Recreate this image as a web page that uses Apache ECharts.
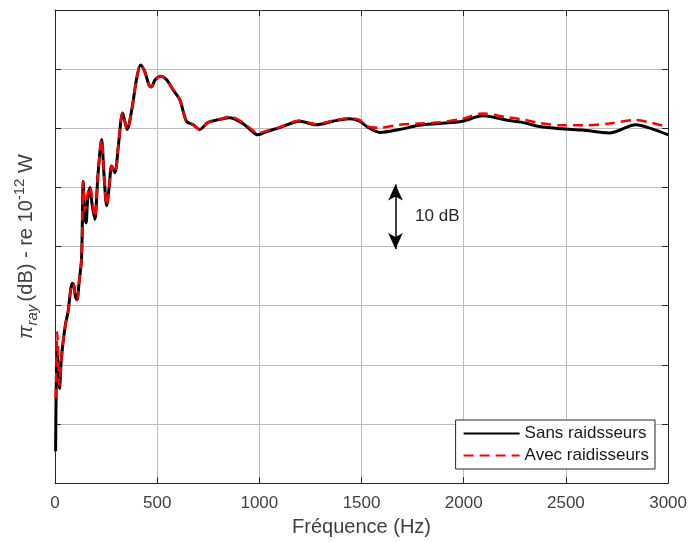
<!DOCTYPE html>
<html>
<head>
<meta charset="utf-8">
<script src="https://cdn.jsdelivr.net/npm/echarts@6/dist/echarts.min.js"></script>
<style>
  html, body { margin: 0; padding: 0; background: #fff; }
  #chart { width: 690px; height: 542px; }
</style>
</head>
<body>
<div id="chart"></div>
<script>
// frequencies (Hz)
const freq = [3, 6, 11, 17, 22, 30, 40, 52, 64, 76, 84, 92, 100, 108, 118, 130, 138, 146, 152, 160,
  171, 182, 195, 210, 228, 240, 253, 265, 277, 293, 310, 331, 353, 375, 400, 419, 440, 460, 472, 490,
  518, 546, 578, 611, 643, 676, 708, 749, 806, 855, 919, 955, 992, 1040, 1099, 1197, 1279, 1360, 1441, 1490,
  1530, 1590, 1686, 1783, 1881, 1993, 2093, 2207, 2287, 2370, 2482, 2580, 2712, 2842, 2922, 3000]

// levels (dB, arbitrary offset, 10 dB per grid line)
const sansRaid = [5.4, 16.5, 22.5, 18, 16, 20.5, 24, 27, 29, 32.5, 33.8, 33.5, 31.5, 31, 34, 38, 51, 45, 44, 48,
  50, 47, 44.6, 52, 58.1, 52, 46.9, 50, 53.6, 52.5, 57, 62.6, 59.8, 63, 68.5, 70.7, 69.5, 67.3, 67, 68.2,
  68.8, 68.2, 66.5, 64.8, 61.2, 60.6, 59.8, 61, 61.5, 61.8, 60.8, 59.8, 58.9, 59.5, 60.1, 61.2, 60.6, 61.2, 61.6, 61.2,
  60.2, 59.3, 59.8, 60.5, 60.8, 61.2, 62.1, 61.4, 61, 60.3, 59.9, 59.7, 59.2, 60.6, 59.9, 58.9]

const avecRaid = [14.3, 18, 25.5, 20, 16.5, 20.5, 24, 27, 29, 32.5, 33.8, 33.5, 31.5, 31, 34, 38, 51, 46, 47, 49,
  50.2, 48, 45, 52, 58.1, 52, 46.9, 50, 53.6, 52.5, 57, 62.6, 59.8, 63, 68.5, 70.7, 69.5, 67.3, 67, 68.2,
  68.8, 68.2, 66.5, 64.8, 61.2, 60.6, 59.8, 61, 61.5, 62, 61, 60, 59.2, 59.6, 60.2, 61.3, 60.7, 61.3, 61.7, 61.4,
  60.3, 60.1, 60.6, 60.8, 61, 61.6, 62.5, 61.9, 61.5, 60.9, 60.5, 60.5, 60.8, 61.4, 60.9, 60.2]

const xTicks = [0, 500, 1000, 1500, 2000, 2500, 3000]

const chart = echarts.init(document.getElementById('chart'))

const fontFam = 'Liberation Sans, Arial, sans-serif'
const axisCol = '#262626'
const gridCol = '#bdbdbd'

function boxAxis (pos, isX) {
  return {
    type: 'value',
    position: pos,
    min: 0,
    max: isX ? 3000 : 80,
    interval: isX ? 500 : 10,
    axisLine: { show: true, onZero: false, lineStyle: { color: axisCol, width: 1 } },
    axisTick: { show: true, inside: true, length: 6, lineStyle: { color: axisCol } },
    axisLabel: { show: false },
    splitLine: { show: false }
  }
}

chart.setOption({
  animation: false,
  backgroundColor: '#fff',
  grid: { left: 55, right: 21, top: 10, bottom: 57 },
  legend: {
    orient: 'vertical',
    right: 35,
    top: 420,
    itemWidth: 56,
    itemHeight: 14,
    itemGap: 5,
    padding: [5, 6, 5, 7],
    borderColor: axisCol,
    borderWidth: 1,
    borderRadius: 0,
    backgroundColor: '#fff',
    itemStyle: { opacity: 0 },
    textStyle: { fontFamily: fontFam, fontSize: 17, color: '#1a1a1a' },
    data: ['Sans raidsseurs', 'Avec raidisseurs']
  },
  xAxis: [
    {
      type: 'value',
      min: 0,
      max: 3000,
      interval: 500,
      name: 'Fréquence (Hz)',
      nameLocation: 'middle',
      nameGap: 28,
      nameTextStyle: { fontFamily: fontFam, fontSize: 20, color: '#404040' },
      axisLine: { show: true, onZero: false, lineStyle: { color: axisCol, width: 1 } },
      axisTick: { show: true, inside: true, length: 6, lineStyle: { color: axisCol } },
      axisLabel: {
        margin: 12,
        fontFamily: fontFam,
        fontSize: 17,
        color: '#404040',
        formatter: v => xTicks.includes(v) ? String(v) : ''
      },
      splitLine: { show: true, lineStyle: { color: gridCol, width: 1 } }
    },
    boxAxis('top', true)
  ],
  yAxis: [
    {
      type: 'value',
      min: 0,
      max: 80,
      interval: 10,
      name: '{pi|π}{sub|ray} {m|(dB) - re 10}{sup|-12}{m| W}',
      nameLocation: 'middle',
      nameRotate: 90,
      nameGap: 15,
      nameTextStyle: {
        fontFamily: fontFam,
        color: '#404040',
        rich: {
          pi: { fontFamily: fontFam, fontSize: 20, fontStyle: 'italic', color: '#404040', lineHeight: 28, verticalAlign: 'middle' },
          sub: { fontFamily: fontFam, fontSize: 15, fontStyle: 'italic', color: '#404040', verticalAlign: 'bottom', lineHeight: 28 },
          m: { fontFamily: fontFam, fontSize: 20, color: '#404040', lineHeight: 28, verticalAlign: 'middle' },
          sup: { fontFamily: fontFam, fontSize: 15, color: '#404040', verticalAlign: 'top', lineHeight: 28 }
        }
      },
      axisLine: { show: true, onZero: false, lineStyle: { color: axisCol, width: 1 } },
      axisTick: { show: true, inside: true, length: 6, lineStyle: { color: axisCol } },
      axisLabel: { show: false },
      splitLine: { show: true, lineStyle: { color: gridCol, width: 1 } }
    },
    boxAxis('right', false)
  ],
  series: [
    {
      name: 'Sans raidsseurs',
      type: 'line',
      data: freq.map((f, i) => [f, sansRaid[i]]),
      smooth: 0.3,
      symbol: 'none',
      lineStyle: { color: '#000', width: 3 },
      itemStyle: { color: '#000' },
      markLine: {
        silent: true,
        symbol: ['arrow', 'arrow'],
        symbolSize: [11, 16],
        label: { show: false },
        lineStyle: { color: '#000', width: 1.5, type: 'solid' },
        data: [[{ coord: [1666, 50.5] }, { coord: [1666, 39.6] }]]
      },
      markPoint: {
        silent: true,
        symbol: 'circle',
        symbolSize: 1,
        itemStyle: { color: 'rgba(0,0,0,0)' },
        label: {
          show: true,
          position: 'right',
          distance: 4,
          formatter: '10 dB',
          fontFamily: fontFam,
          fontSize: 17,
          color: '#262626'
        },
        data: [{ coord: [1740, 45.1] }]
      }
    },
    {
      name: 'Avec raidisseurs',
      type: 'line',
      data: freq.map((f, i) => [f, avecRaid[i]]),
      smooth: 0.3,
      symbol: 'none',
      lineStyle: { color: '#ff0000', width: 2.5, type: [10, 6] },
      itemStyle: { color: '#ff0000' }
    }
  ]
})
</script>
</body>
</html>
